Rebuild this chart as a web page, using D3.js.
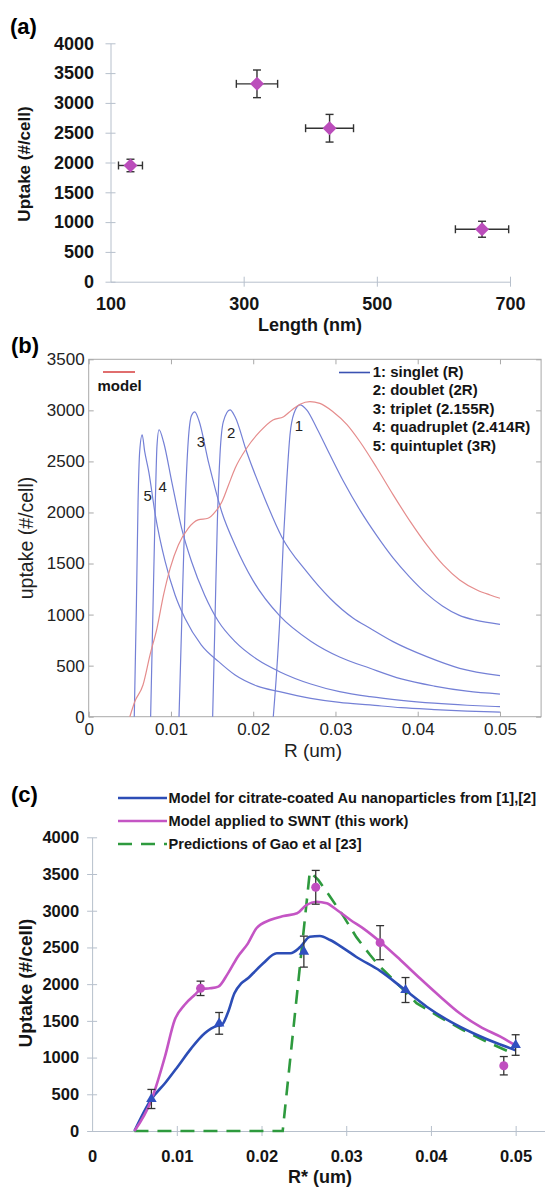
<!DOCTYPE html>
<html>
<head>
<meta charset="utf-8">
<script src="https://cdn.jsdelivr.net/npm/d3@7"></script>
<style>
  body { margin: 0; background: #fff; }
  svg { display: block; font-family: "Liberation Sans", Arial, sans-serif; }
</style>
</head>
<body>
<div id="chart"></div>
<script>
// ---------- panel (a): measured uptake vs SWNT length ----------
const aLength = [130, 320, 429, 658];
const aLengthErr = [18, 31, 36, 40];
const aUptake = [1950, 3320, 2575, 880];
const aUptakeErr = [105, 232, 232, 134];
const aXTicks = [100, 300, 500, 700];
const aYTicks = [0, 500, 1000, 1500, 2000, 2500, 3000, 3500, 4000];

// ---------- panel (b): model curves, [R (um), uptake] ----------
const bModel = [[0.005,0],[0.0056,147],[0.0066,310],[0.00745,604],[0.0083,866],[0.0091,1192],[0.0099,1453],
  [0.0109,1682],[0.0121,1845],[0.0133,1927],[0.0145,1943],[0.0154,2008],[0.0162,2106],[0.017,2269],[0.0178,2433],
  [0.0192,2629],[0.0208,2791],[0.0224,2906],[0.0237,2938],[0.0247,3004],[0.0257,3060],[0.0269,3085],[0.0281,3069],
  [0.0297,2987],[0.0314,2860],[0.033,2690],[0.035,2440],[0.037,2175],[0.0391,1910],[0.0411,1682],[0.0431,1486],
  [0.0451,1339],[0.0472,1241],[0.0488,1192],[0.05,1160]];
const bSinglet = [[0.02244,0],[0.02285,441],[0.02326,996],[0.02366,1714],[0.02407,2302],[0.02447,2759],[0.02496,2971],
  [0.02569,3053],[0.0265,3004],[0.0277,2830],[0.0293,2570],[0.031,2300],[0.033,2020],[0.035,1775],[0.037,1555],
  [0.039,1370],[0.041,1210],[0.043,1085],[0.045,995],[0.047,945],[0.05,905]];
const bDoublet = [[0.01507,0],[0.01535,930],[0.01564,1910],[0.01596,2563],[0.01637,2889],[0.01718,3004],[0.01779,2938],
  [0.0192,2595],[0.02123,2171],[0.02346,1763],[0.0265,1420],[0.02933,1160],[0.03217,964],[0.0342,866],[0.037,735],
  [0.0411,588],[0.0451,474],[0.05,402]];
const bTriplet = [[0.01098,0],[0.0113,900],[0.0117,2000],[0.0121,2700],[0.0125,2950],[0.0129,2985],[0.0134,2900],
  [0.0146,2480],[0.0162,2000],[0.0178,1680],[0.02,1330],[0.0232,990],[0.027,740],[0.0305,585],[0.0342,474],
  [0.038,370],[0.042,300],[0.046,250],[0.05,222]];
const bQuadruplet = [[0.00753,0],[0.0078,1000],[0.0081,2100],[0.0083,2650],[0.00855,2810],[0.0091,2690],[0.0101,2300],
  [0.0113,1845],[0.0125,1520],[0.0141,1190],[0.0158,930],[0.0178,735],[0.0205,560],[0.0232,441],[0.027,320],
  [0.0305,245],[0.0342,196],[0.038,160],[0.042,132],[0.046,112],[0.05,98]];
const bQuintuplet = [[0.00554,0],[0.0058,1100],[0.006,2100],[0.0062,2600],[0.0065,2760],[0.0068,2600],[0.0073,2400],
  [0.0081,1975],[0.0093,1518],[0.0105,1192],[0.0117,964],[0.0137,702],[0.0158,539],[0.0178,408],[0.0205,300],
  [0.0232,245],[0.027,180],[0.0305,140],[0.0342,115],[0.038,88],[0.042,70],[0.046,55],[0.05,45]];
const bLegend = ["1: singlet (R)", "2: doublet (2R)", "3: triplet (2.155R)", "4: quadruplet (2.414R)", "5: quintuplet (3R)"];
const bXTicks = [0, 0.01, 0.02, 0.03, 0.04, 0.05];
const bYTicks = [0, 500, 1000, 1500, 2000, 2500, 3000, 3500];

// ---------- panel (c): models, Gao prediction and data ----------
const cCitrate = [[0.005,0],[0.007,436],[0.0086,650],[0.0101,876],[0.0117,1126],[0.0133,1331],[0.0147,1430],[0.0153,1444],
  [0.016,1603],[0.0168,1875],[0.0176,2012],[0.0184,2080],[0.019,2148],[0.0202,2284],[0.0218,2420],[0.0234,2420],
  [0.0246,2510],[0.0257,2646],[0.0269,2656],[0.0281,2601],[0.0297,2488],[0.0312,2370],[0.034,2180],[0.0367,1943],
  [0.0395,1693],[0.0423,1489],[0.045,1331],[0.0478,1194],[0.05,1100]];
const cSwnt = [[0.005,0],[0.007,422],[0.0086,1012],[0.00975,1512],[0.0109,1716],[0.0121,1852],[0.0129,1934],[0.0139,1943],
  [0.0149,1966],[0.016,2140],[0.0172,2374],[0.0184,2556],[0.0194,2761],[0.021,2874],[0.0226,2928],[0.0242,2965],
  [0.0253,3078],[0.0265,3123],[0.0277,3101],[0.0289,3010],[0.0305,2874],[0.032,2760],[0.034,2578],[0.0364,2329],
  [0.0387,2080],[0.0411,1829],[0.0434,1603],[0.0458,1421],[0.0482,1284],[0.05,1165]];
const cGao = [[0.005,0],[0.0225,0],[0.0257,3530],[0.0267,3420],[0.0281,3190],[0.0297,2920],[0.0312,2640],[0.0328,2400],
  [0.0338,2260],[0.0367,1930],[0.0383,1740],[0.041,1555],[0.0438,1375],[0.0466,1215],[0.05,1040]];
const cSwntX = [0.0128, 0.0264, 0.034, 0.0486];
const cSwntY = [1943, 3319, 2565, 889];
const cSwntErr = [98, 230, 232, 125];
const cCitrateX = [0.007, 0.015, 0.025, 0.037, 0.05];
const cCitrateY = [436, 1466, 2443, 1920, 1171];
const cCitrateErr = [130, 148, 211, 170, 140];
const cLegend = ["Model for citrate-coated Au nanoparticles from [1],[2]",
  "Model applied to SWNT (this work)", "Predictions of Gao et al [23]"];
const cXTicks = [0, 0.01, 0.02, 0.03, 0.04, 0.05];
const cYTicks = [0, 500, 1000, 1500, 2000, 2500, 3000, 3500, 4000];

const fmtR = d => d === 0 ? "0" : d3.format(".2f")(d);
const fmtInt = d3.format("d");

const svg = d3.select("#chart")
  .append("svg")
  .attr("width", 545)
  .attr("height", 1189);

const axisGrey = "#b7c0cc";

// cross ticks for the Excel-style axes
function crossTicks(g, vertical) {
  g.select(".domain").attr("stroke", axisGrey);
  g.selectAll(".tick line").attr("stroke", axisGrey);
  if (vertical) g.selectAll(".tick line").attr("x1", 5).attr("x2", -5);
  else g.selectAll(".tick line").attr("y1", -5).attr("y2", 5);
}

function errorBar(g, x1, y1, x2, y2, cap, horizontal) {
  g.append("line").attr("x1", x1).attr("y1", y1).attr("x2", x2).attr("y2", y2);
  if (horizontal) {
    g.append("line").attr("x1", x1).attr("x2", x1).attr("y1", y1 - cap).attr("y2", y1 + cap);
    g.append("line").attr("x1", x2).attr("x2", x2).attr("y1", y2 - cap).attr("y2", y2 + cap);
  } else {
    g.append("line").attr("y1", y1).attr("y2", y1).attr("x1", x1 - cap).attr("x2", x1 + cap);
    g.append("line").attr("y1", y2).attr("y2", y2).attr("x1", x2 - cap).attr("x2", x2 + cap);
  }
}

// =================== (a) ===================
const ax = d3.scaleLinear().domain([100, 700]).range([110.5, 510]);
const ay = d3.scaleLinear().domain([0, 4000]).range([281.7, 43.3]);
const pa = svg.append("g");

const ayAxis = pa.append("g")
  .attr("transform", `translate(${ax(100)},0)`)
  .call(d3.axisLeft(ay).tickValues(aYTicks).tickFormat(fmtInt).tickSize(5).tickSizeOuter(0).tickPadding(11.5));
crossTicks(ayAxis, true);
const axAxis = pa.append("g")
  .attr("transform", `translate(0,${ay(0)})`)
  .call(d3.axisBottom(ax).tickValues(aXTicks).tickFormat(fmtInt).tickSize(5).tickSizeOuter(0).tickPadding(11));
crossTicks(axAxis, false);
axAxis.selectAll(".tick").filter(d => d === 100).select("line").remove();
pa.selectAll(".tick text")
  .attr("font-family", "Liberation Sans, Arial, sans-serif")
  .attr("font-size", 18).attr("font-weight", "bold").attr("fill", "#151515");

const aErr = pa.append("g").attr("stroke", "#333").attr("stroke-width", 1.4);
aLength.forEach((v, i) => {
  errorBar(aErr, ax(v - aLengthErr[i]), ay(aUptake[i]), ax(v + aLengthErr[i]), ay(aUptake[i]), 4, true);
  errorBar(aErr, ax(v), ay(aUptake[i] - aUptakeErr[i]), ax(v), ay(aUptake[i] + aUptakeErr[i]), 4, false);
});
pa.selectAll(".diamond")
  .data(aLength)
  .enter()
  .append("path")
  .attr("d", d3.symbol().type(d3.symbolSquare).size(98))
  .attr("transform", (d, i) => `translate(${ax(d)},${ay(aUptake[i])}) rotate(45)`)
  .attr("fill", "#bb4dbb");

pa.append("text").attr("x", 10).attr("y", 34).attr("font-size", 22).attr("font-weight", "bold").text("(a)");
pa.append("text")
  .attr("transform", "translate(30,164) rotate(-90)")
  .attr("text-anchor", "middle").attr("font-size", 17).attr("font-weight", "bold").attr("fill", "#151515")
  .text("Uptake (#/cell)");
pa.append("text").attr("x", 310).attr("y", 331)
  .attr("text-anchor", "middle").attr("font-size", 18).attr("font-weight", "bold").attr("fill", "#151515")
  .text("Length (nm)");

// =================== (b) ===================
const bx = d3.scaleLinear().domain([0, 0.055]).range([88.7, 541.1]);
const by = d3.scaleLinear().domain([0, 3500]).range([716.7, 359.3]);
const pb = svg.append("g");
const boxGrey = "#a9a9a9";

pb.append("rect")
  .attr("x", bx(0)).attr("y", by(3500))
  .attr("width", bx(0.055) - bx(0)).attr("height", by(0) - by(3500))
  .attr("fill", "none").attr("stroke", boxGrey);

const bAxes = [
  pb.append("g").attr("transform", `translate(0,${by(0)})`)
    .call(d3.axisBottom(bx).tickValues(bXTicks).tickFormat(fmtR).tickSizeInner(-5).tickSizeOuter(0).tickPadding(6)),
  pb.append("g").attr("transform", `translate(0,${by(3500)})`)
    .call(d3.axisTop(bx).tickValues(bXTicks).tickFormat("").tickSizeInner(-5).tickSizeOuter(0)),
  pb.append("g").attr("transform", `translate(${bx(0)},0)`)
    .call(d3.axisLeft(by).tickValues(bYTicks).tickFormat(fmtInt).tickSizeInner(-5).tickSizeOuter(0).tickPadding(4)),
  pb.append("g").attr("transform", `translate(${bx(0.055)},0)`)
    .call(d3.axisRight(by).tickValues(bYTicks).tickFormat("").tickSizeInner(-5).tickSizeOuter(0))
];
bAxes.forEach(g => {
  g.select(".domain").remove();
  g.selectAll(".tick line").attr("stroke", boxGrey);
  g.selectAll(".tick text")
    .attr("font-family", "Liberation Sans, Arial, sans-serif")
    .attr("font-size", 17).attr("fill", "#222");
});

const bLine = d3.line().x(d => bx(d[0])).y(d => by(d[1])).curve(d3.curveMonotoneX);
[bSinglet, bDoublet, bTriplet, bQuadruplet, bQuintuplet].forEach(s => {
  pb.append("path").attr("d", bLine(s)).attr("fill", "none")
    .attr("stroke", "#7480d6").attr("stroke-width", 1.2);
});
pb.append("path").attr("d", bLine(bModel)).attr("fill", "none")
  .attr("stroke", "#e58c8c").attr("stroke-width", 1.2);

// curve numbers, anchored in data coordinates
const bCurveLabels = [["1", 0.02555, 2850], ["2", 0.01731, 2776], ["3", 0.01364, 2693], ["4", 0.009, 2253], ["5", 0.00717, 2164]];
pb.selectAll(".clabel")
  .data(bCurveLabels)
  .enter()
  .append("text")
  .attr("x", d => bx(d[1])).attr("y", d => by(d[2]))
  .attr("dy", "0.35em").attr("text-anchor", "middle")
  .attr("font-size", 15).attr("fill", "#222")
  .text(d => d[0]);

pb.append("line").attr("x1", 103).attr("x2", 135).attr("y1", 372).attr("y2", 372)
  .attr("stroke", "#d9494a").attr("stroke-width", 1.6);
pb.append("text").attr("x", 97.5).attr("y", 391).attr("font-size", 15).attr("font-weight", "bold").attr("fill", "#151515").text("model");
pb.append("line").attr("x1", 339).attr("x2", 370).attr("y1", 372.5).attr("y2", 372.5)
  .attr("stroke", "#3a52b2").attr("stroke-width", 1.6);
pb.selectAll(".blegend")
  .data(bLegend)
  .enter()
  .append("text")
  .attr("x", 372.7).attr("y", (d, i) => 376.5 + i * 18.5)
  .attr("font-size", 15).attr("font-weight", "bold").attr("fill", "#151515")
  .text(d => d);

pb.append("text").attr("x", 11).attr("y", 353).attr("font-size", 22).attr("font-weight", "bold").text("(b)");
pb.append("text")
  .attr("transform", "translate(33,538) rotate(-90)")
  .attr("text-anchor", "middle").attr("font-size", 19.5).attr("fill", "#222")
  .text("uptake (#/cell)");
pb.append("text").attr("x", 313).attr("y", 757)
  .attr("text-anchor", "middle").attr("font-size", 19).attr("fill", "#222")
  .text("R (um)");

// =================== (c) ===================
const cx = d3.scaleLinear().domain([0, 0.055]).range([92.1, 558]);
const cy = d3.scaleLinear().domain([0, 4000]).range([1131, 837.3]);
const pc = svg.append("g");

const cyAxis = pc.append("g")
  .attr("transform", `translate(${cx(0)},0)`)
  .call(d3.axisLeft(cy).tickValues(cYTicks).tickFormat(fmtInt).tickSize(5).tickSizeOuter(0).tickPadding(8));
crossTicks(cyAxis, true);
const cxAxis = pc.append("g")
  .attr("transform", `translate(0,${cy(0)})`)
  .call(d3.axisBottom(cx).tickValues(cXTicks).tickFormat(fmtR).tickSize(5).tickSizeOuter(0).tickPadding(14));
crossTicks(cxAxis, false);
cxAxis.selectAll(".tick").filter(d => d === 0).select("line").remove();
pc.selectAll(".tick text")
  .attr("font-family", "Liberation Sans, Arial, sans-serif")
  .attr("font-size", 16.5).attr("font-weight", "bold").attr("fill", "#151515");

const cLine = d3.line().x(d => cx(d[0])).y(d => cy(d[1])).curve(d3.curveMonotoneX);
pc.append("path").attr("d", d3.line().x(d => cx(d[0])).y(d => cy(d[1]))(cGao)).attr("fill", "none")
  .attr("stroke", "#2e9a3e").attr("stroke-width", 2.6).attr("stroke-dasharray", "14,9");
pc.append("path").attr("d", cLine(cCitrate)).attr("fill", "none")
  .attr("stroke", "#2c4db6").attr("stroke-width", 2.6);
pc.append("path").attr("d", cLine(cSwnt)).attr("fill", "none")
  .attr("stroke", "#c455c4").attr("stroke-width", 2.6);

const cErr = pc.append("g").attr("stroke", "#333").attr("stroke-width", 1.3);
cSwntX.forEach((v, i) => errorBar(cErr, cx(v), cy(cSwntY[i] - cSwntErr[i]), cx(v), cy(cSwntY[i] + cSwntErr[i]), 4, false));
cCitrateX.forEach((v, i) => errorBar(cErr, cx(v), cy(cCitrateY[i] - cCitrateErr[i]), cx(v), cy(cCitrateY[i] + cCitrateErr[i]), 4, false));

pc.selectAll(".swnt")
  .data(cSwntX)
  .enter()
  .append("circle")
  .attr("cx", d => cx(d)).attr("cy", (d, i) => cy(cSwntY[i])).attr("r", 4.5)
  .attr("fill", "#c04ec0");
pc.selectAll(".citrate")
  .data(cCitrateX)
  .enter()
  .append("path")
  .attr("d", d3.symbol().type(d3.symbolTriangle).size(48))
  .attr("transform", (d, i) => `translate(${cx(d)},${cy(cCitrateY[i])})`)
  .attr("fill", "#3050c0");

const cLegendStyle = [["#2c4db6", null], ["#c455c4", null], ["#2e9a3e", "14,9"]];
cLegend.forEach((t, i) => {
  const y = 798 + i * 23;
  pc.append("line").attr("x1", 118).attr("x2", 167).attr("y1", y).attr("y2", y)
    .attr("stroke", cLegendStyle[i][0]).attr("stroke-width", 2.6)
    .attr("stroke-dasharray", cLegendStyle[i][1]);
  pc.append("text").attr("x", 168.5).attr("y", y + 5.2)
    .attr("font-size", 14.6).attr("font-weight", "bold").attr("fill", "#151515")
    .text(t);
});

pc.append("text").attr("x", 11).attr("y", 802).attr("font-size", 22).attr("font-weight", "bold").text("(c)");
pc.append("text")
  .attr("transform", "translate(32,983) rotate(-90)")
  .attr("text-anchor", "middle").attr("font-size", 19).attr("font-weight", "bold").attr("fill", "#151515")
  .text("Uptake (#/cell)");
pc.append("text").attr("x", 320).attr("y", 1183)
  .attr("text-anchor", "middle").attr("font-size", 18).attr("font-weight", "bold").attr("fill", "#151515")
  .text("R* (um)");
</script>
</body>
</html>
